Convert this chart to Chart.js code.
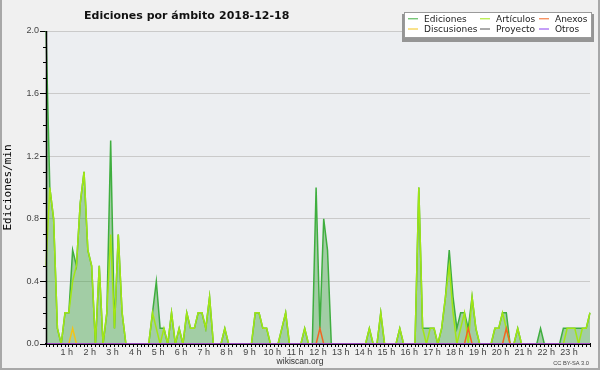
<!DOCTYPE html>
<html>
<head>
<meta charset="utf-8">
<script src="https://cdn.jsdelivr.net/npm/chart.js@4.4.1/dist/chart.umd.min.js"></script>
<style>
  html, body { margin: 0; padding: 0; background: #f0f0f0; }
  #chart { display: block; }
</style>
</head>
<body>
<canvas id="chart" width="600" height="370"></canvas>
<script>
// etiquetas de las horas (eje x)
const hourLabels = ['1 h', '2 h', '3 h', '4 h', '5 h', '6 h', '7 h', '8 h', '9 h', '10 h', '11 h', '12 h',
    '13 h', '14 h', '15 h', '16 h', '17 h', '18 h', '19 h', '20 h', '21 h', '22 h', '23 h'];

// intervalos de 10 minutos
const slots = [];
for (let h = 0; h < 24; h++) {
    for (let m = 0; m < 60; m += 10) {
        slots.push(String(h).padStart(2, '0') + ':' + String(m).padStart(2, '0'));
    }
}

const yTicks = [0.0, 0.4, 0.8, 1.2, 1.6, 2.0];

// ediciones/min, una fila = 2 horas
const ediciones = [
    2.0, 1.0, 0.8, 0.1, 0, 0.2, 0.2, 0.6, 0.5, 0.9, 1.1, 0.6,
    0.5, 0, 0.5, 0, 0.2, 1.3, 0.1, 0.7, 0.2, 0, 0, 0,
    0, 0, 0, 0, 0.2, 0.4, 0.1, 0.1, 0, 0.2, 0, 0.1,
    0, 0.2, 0.1, 0.1, 0.2, 0.2, 0.1, 0.3, 0, 0, 0, 0.1,
    0, 0, 0, 0, 0, 0, 0, 0.2, 0.2, 0.1, 0.1, 0,
    0, 0, 0.1, 0.2, 0, 0, 0, 0, 0.1, 0, 0, 1.0,
    0.1, 0.8, 0.6, 0, 0, 0, 0, 0, 0, 0, 0, 0,
    0, 0.1, 0, 0, 0.2, 0, 0, 0, 0, 0.1, 0, 0,
    0, 0, 1.0, 0.1, 0.1, 0.1, 0.1, 0, 0.1, 0.3, 0.6, 0.3,
    0.1, 0.2, 0.2, 0.1, 0.3, 0.1, 0, 0, 0, 0, 0.1, 0.1,
    0.2, 0.2, 0, 0, 0.1, 0, 0, 0, 0, 0, 0.1, 0,
    0, 0, 0, 0, 0.1, 0.1, 0.1, 0.1, 0.1, 0.1, 0.1, 0.2
];

const articulos = [
    0.5, 1.0, 0.8, 0.1, 0, 0.2, 0.2, 0.4, 0.5, 0.9, 1.1, 0.6,
    0.5, 0, 0.5, 0, 0.2, 0.7, 0.1, 0.7, 0.2, 0, 0, 0,
    0, 0, 0, 0, 0.2, 0.1, 0, 0.1, 0, 0.2, 0, 0.1,
    0, 0.2, 0.1, 0.1, 0.2, 0.2, 0.1, 0.3, 0, 0, 0, 0.1,
    0, 0, 0, 0, 0, 0, 0, 0.2, 0.2, 0.1, 0.1, 0,
    0, 0, 0.1, 0.2, 0, 0, 0, 0, 0.1, 0, 0, 0,
    0, 0, 0, 0, 0, 0, 0, 0, 0, 0, 0, 0,
    0, 0.1, 0, 0, 0.2, 0, 0, 0, 0, 0.1, 0, 0,
    0, 0, 1.0, 0.1, 0, 0.1, 0.1, 0, 0.1, 0.3, 0.5, 0.2,
    0, 0.1, 0.2, 0, 0.3, 0.1, 0, 0, 0, 0, 0.1, 0.1,
    0.2, 0.1, 0, 0, 0.1, 0, 0, 0, 0, 0, 0, 0,
    0, 0, 0, 0, 0, 0.1, 0.1, 0.1, 0, 0.1, 0.1, 0.2
];

const anexos = [
    0, 0, 0, 0, 0, 0, 0, 0, 0, 0, 0, 0,
    0, 0, 0, 0, 0, 0, 0, 0, 0, 0, 0, 0,
    0, 0, 0, 0, 0, 0, 0, 0, 0, 0, 0, 0,
    0, 0, 0, 0, 0, 0, 0, 0, 0, 0, 0, 0,
    0, 0, 0, 0, 0, 0, 0, 0, 0, 0, 0, 0,
    0, 0, 0, 0, 0, 0, 0, 0, 0, 0, 0, 0,
    0.1, 0, 0, 0, 0, 0, 0, 0, 0, 0, 0, 0,
    0, 0, 0, 0, 0, 0, 0, 0, 0, 0, 0, 0,
    0, 0, 0, 0, 0, 0, 0, 0, 0, 0, 0, 0,
    0, 0, 0, 0.1, 0, 0, 0, 0, 0, 0, 0, 0,
    0, 0.1, 0, 0, 0, 0, 0, 0, 0, 0, 0, 0,
    0, 0, 0, 0, 0, 0, 0, 0, 0, 0, 0, 0
];

const discusiones = [
    0, 0, 0, 0, 0, 0, 0, 0.1, 0, 0, 0, 0,
    0, 0, 0, 0, 0, 0, 0, 0, 0, 0, 0, 0,
    0, 0, 0, 0, 0, 0, 0, 0, 0, 0, 0, 0,
    0, 0, 0, 0, 0, 0, 0, 0, 0, 0, 0, 0,
    0, 0, 0, 0, 0, 0, 0, 0, 0, 0, 0, 0,
    0, 0, 0, 0, 0, 0, 0, 0, 0, 0, 0, 0,
    0, 0, 0, 0, 0, 0, 0, 0, 0, 0, 0, 0,
    0, 0, 0, 0, 0, 0, 0, 0, 0, 0, 0, 0,
    0, 0, 0, 0, 0, 0, 0, 0, 0, 0, 0, 0,
    0, 0, 0, 0, 0, 0, 0, 0, 0, 0, 0, 0,
    0, 0, 0, 0, 0, 0, 0, 0, 0, 0, 0, 0,
    0, 0, 0, 0, 0, 0, 0, 0, 0, 0, 0, 0
];

const proyecto = [
    0, 0, 0, 0, 0, 0, 0, 0, 0, 0, 0, 0,
    0, 0, 0, 0, 0, 0, 0, 0, 0, 0, 0, 0,
    0, 0, 0, 0, 0, 0, 0, 0, 0, 0, 0, 0,
    0, 0, 0, 0, 0, 0, 0, 0, 0, 0, 0, 0,
    0, 0, 0, 0, 0, 0, 0, 0, 0, 0, 0, 0,
    0, 0, 0, 0, 0, 0, 0, 0, 0, 0, 0, 0,
    0, 0, 0, 0, 0, 0, 0, 0, 0, 0, 0, 0,
    0, 0, 0, 0, 0, 0, 0, 0, 0, 0, 0, 0,
    0, 0, 0, 0, 0, 0, 0, 0, 0, 0, 0, 0,
    0, 0, 0, 0, 0, 0, 0, 0, 0, 0, 0, 0,
    0, 0, 0, 0, 0, 0, 0, 0, 0, 0, 0, 0,
    0, 0, 0, 0, 0, 0, 0, 0, 0, 0, 0, 0
];

const otros = [
    0, 0, 0, 0, 0, 0, 0, 0, 0, 0, 0, 0,
    0, 0, 0, 0, 0, 0, 0, 0, 0, 0, 0, 0,
    0, 0, 0, 0, 0, 0, 0, 0, 0, 0, 0, 0,
    0, 0, 0, 0, 0, 0, 0, 0, 0, 0, 0, 0,
    0, 0, 0, 0, 0, 0, 0, 0, 0, 0, 0, 0,
    0, 0, 0, 0, 0, 0, 0, 0, 0, 0, 0, 0,
    0, 0, 0, 0, 0, 0, 0, 0, 0, 0, 0, 0,
    0, 0, 0, 0, 0, 0, 0, 0, 0, 0, 0, 0,
    0, 0, 0, 0, 0, 0, 0, 0, 0, 0, 0, 0,
    0, 0, 0, 0, 0, 0, 0, 0, 0, 0, 0, 0,
    0, 0, 0, 0, 0, 0, 0, 0, 0, 0, 0, 0,
    0, 0, 0, 0, 0, 0, 0, 0, 0, 0, 0, 0
];

const SANS = "'Liberation Sans', Arial, sans-serif";
const isMajor = (v) => Math.round(v * 10) % 4 === 0;

// fondo del gráfico y marco
const frame = {
    id: 'frame',
    beforeDraw(chart) {
        const { ctx, chartArea: a } = chart;
        ctx.save();
        ctx.fillStyle = '#f0f0f0';
        ctx.fillRect(0, 0, chart.width, chart.height);
        ctx.fillStyle = '#eceef1';
        ctx.fillRect(a.left, a.top, a.right - a.left, a.bottom - a.top);
        ctx.strokeStyle = '#a8a8a8';
        ctx.lineWidth = 2;
        ctx.beginPath();
        ctx.moveTo(1, 0);
        ctx.lineTo(1, 369);
        ctx.lineTo(599, 369);
        ctx.lineTo(599, 0);
        ctx.stroke();
        ctx.restore();
    }
};

// eje y por encima del relleno + marcas menores
const yAxisLine = {
    id: 'yAxisLine',
    afterDatasetsDraw(chart) {
        const { ctx, chartArea: a, scales: { y } } = chart;
        ctx.save();
        ctx.strokeStyle = '#000';
        ctx.lineWidth = 1.5;
        ctx.beginPath();
        ctx.moveTo(a.left + 0.5, a.top);
        ctx.lineTo(a.left + 0.5, a.bottom);
        ctx.stroke();
        ctx.lineWidth = 1;
        y.ticks.forEach(t => {
            if (isMajor(t.value)) return;
            const py = Math.round(y.getPixelForValue(t.value)) + 0.5;
            ctx.beginPath();
            ctx.moveTo(a.left - 3, py);
            ctx.lineTo(a.left, py);
            ctx.stroke();
        });
        ctx.restore();
    }
};

// título, leyenda y pie
const decor = {
    id: 'decor',
    afterDraw(chart) {
        const ctx = chart.ctx;
        ctx.save();

        ctx.fillStyle = '#111';
        ctx.font = "bold 11px 'DejaVu Sans', sans-serif";
        ctx.textBaseline = 'alphabetic';
        ctx.textAlign = 'left';
        ctx.fillText('Ediciones por ámbito', 84, 18.5);
        ctx.fillText('2018-12-18', 219, 18.5);

        // leyenda
        ctx.fillStyle = '#959595';
        ctx.fillRect(402, 14, 192, 28);
        ctx.fillStyle = '#fff';
        ctx.fillRect(404, 12, 188, 26);
        ctx.strokeStyle = '#9a9a9a';
        ctx.lineWidth = 1;
        ctx.strokeRect(404.5, 12.5, 187, 25);

        const colX = [408, 480, 539];
        const rowY = [21.8, 32];
        ctx.font = "9px 'DejaVu Sans', sans-serif";
        chart.data.datasets.forEach((ds, i) => {
            const x = colX[i % 3];
            const y = rowY[Math.floor(i / 3)];
            ctx.strokeStyle = ds.borderColor;
            ctx.lineWidth = 1;
            ctx.beginPath();
            ctx.moveTo(x, y - 3);
            ctx.lineTo(x + 10, y - 3);
            ctx.stroke();
            ctx.fillStyle = '#222';
            ctx.fillText(ds.label, x + 16, y);
        });

        // pie
        ctx.fillStyle = '#333';
        ctx.font = "8.5px " + SANS;
        ctx.textAlign = 'center';
        ctx.fillText('wikiscan.org', 300, 364);
        ctx.fillStyle = '#444';
        ctx.font = "5.7px " + SANS;
        ctx.textAlign = 'right';
        ctx.fillText('CC BY-SA 3.0', 589, 364.5);

        ctx.restore();
    }
};

function serie(label, data, color, order, extra) {
    return Object.assign({
        label: label,
        data: data,
        borderColor: color,
        backgroundColor: color,
        borderWidth: 1.5,
        pointRadius: 0,
        tension: 0,
        fill: false,
        order: order
    }, extra || {});
}

new Chart(document.getElementById('chart'), {
    type: 'line',
    data: {
        labels: slots,
        datasets: [
            serie('Ediciones', ediciones, '#3fae3f', 6, { fill: 'origin', backgroundColor: 'rgba(60,160,60,0.42)' }),
            serie('Artículos', articulos, '#a2e614', 5),
            serie('Anexos', anexos, '#f26522', 2),
            serie('Discusiones', discusiones, '#f2c418', 4),
            serie('Proyecto', proyecto, '#555555', 3),
            serie('Otros', otros, '#8a3ff0', 1)
        ]
    },
    options: {
        responsive: false,
        animation: false,
        layout: { padding: { left: 0, right: 10, top: 31, bottom: 0 } },
        plugins: {
            legend: { display: false },
            tooltip: { enabled: false },
            title: { display: false }
        },
        scales: {
            x: {
                z: 1,
                offset: false,
                afterFit: (s) => { s.height = 26; },
                border: { color: '#000', width: 2 },
                grid: { drawOnChartArea: false, tickLength: 3, tickColor: '#000' },
                ticks: {
                    autoSkip: false,
                    maxRotation: 0,
                    minRotation: 0,
                    padding: 0,
                    labelOffset: -2,
                    color: '#444',
                    font: { family: SANS, size: 9 },
                    callback: function (val, idx) {
                        return idx > 0 && idx % 6 === 0 ? hourLabels[idx / 6 - 1] : '';
                    }
                }
            },
            y: {
                min: 0,
                max: 2.0,
                afterFit: (s) => { s.width = 46; },
                border: { display: false },
                grid: {
                    tickLength: 6,
                    color: (c) => (c.tick && c.tick.value > 0 && isMajor(c.tick.value)) ? '#cacaca' : 'rgba(0,0,0,0)',
                    tickColor: (c) => (c.tick && isMajor(c.tick.value)) ? '#000' : 'rgba(0,0,0,0)'
                },
                ticks: {
                    stepSize: 0.1,
                    autoSkip: false,
                    padding: 1,
                    color: '#444',
                    font: { family: SANS, size: 9 },
                    callback: (v) => {
                        const hit = yTicks.find(t => Math.abs(t - v) < 1e-6);
                        return hit !== undefined ? hit.toFixed(1) : '';
                    }
                },
                title: {
                    display: true,
                    text: 'Ediciones/min',
                    color: '#000',
                    padding: { top: 2, bottom: 0 },
                    font: { family: "'DejaVu Sans Mono', monospace", size: 11 }
                }
            }
        }
    },
    plugins: [frame, yAxisLine, decor]
});
</script>
</body>
</html>
